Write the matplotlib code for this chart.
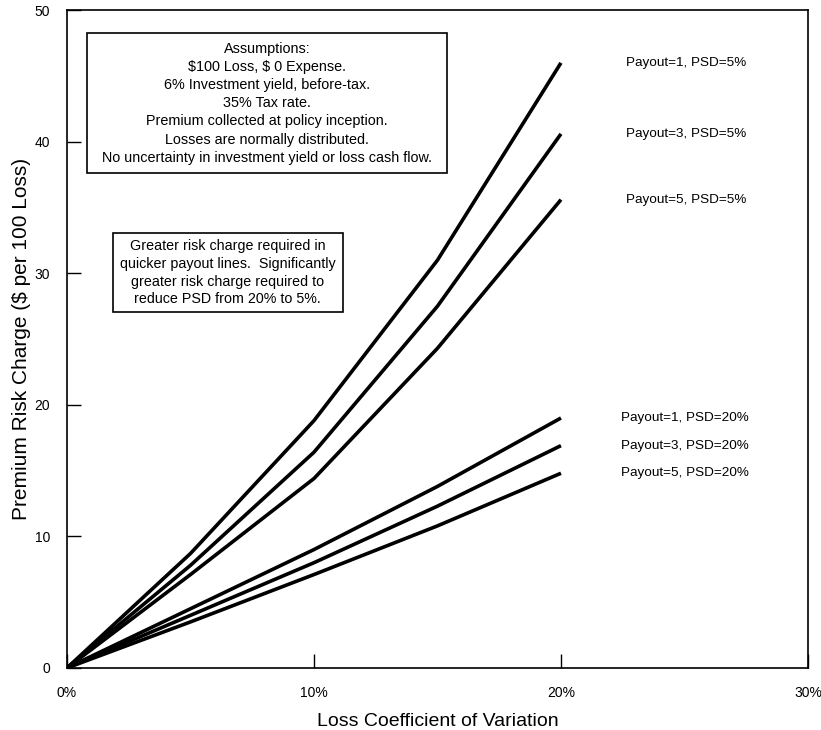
import matplotlib
matplotlib.use("Agg")
import matplotlib.pyplot as plt
from matplotlib.patches import Rectangle

# loss coefficient of variation (x) and premium risk charge per $100 loss (y)
cv = [0.0, 0.05, 0.10, 0.15, 0.20]

charge_p1_psd5 = [0.0, 8.7, 18.8, 31.0, 46.0]
charge_p3_psd5 = [0.0, 7.8, 16.4, 27.5, 40.6]
charge_p5_psd5 = [0.0, 7.1, 14.4, 24.3, 35.6]
charge_p1_psd20 = [0.0, 4.5, 9.0, 13.8, 19.0]
charge_p3_psd20 = [0.0, 4.0, 8.0, 12.3, 16.9]
charge_p5_psd20 = [0.0, 3.5, 7.1, 10.8, 14.8]

series = [
    ("Payout=1, PSD=5%", charge_p1_psd5),
    ("Payout=3, PSD=5%", charge_p3_psd5),
    ("Payout=5, PSD=5%", charge_p5_psd5),
    ("Payout=1, PSD=20%", charge_p1_psd20),
    ("Payout=3, PSD=20%", charge_p3_psd20),
    ("Payout=5, PSD=20%", charge_p5_psd20),
]

x_ticks = [0.0, 0.10, 0.20, 0.30]
x_tick_labels = ["0%", "10%", "20%", "30%"]
y_ticks = [0, 10, 20, 30, 40, 50]

assumptions = ("Assumptions:\n"
               "$100 Loss, $ 0 Expense.\n"
               "6% Investment yield, before-tax.\n"
               "35% Tax rate.\n"
               "Premium collected at policy inception.\n"
               "Losses are normally distributed.\n"
               "No uncertainty in investment yield or loss cash flow.")
note = ("Greater risk charge required in\n"
        "quicker payout lines.  Significantly\n"
        "greater risk charge required to\n"
        "reduce PSD from 20% to 5%.")

plt.rcParams["font.family"] = ["Liberation Sans", "DejaVu Sans"]

fig = plt.figure(figsize=(8.21, 7.30), dpi=100)
ax = fig.add_axes([0.0816, 0.085, 0.9025, 0.901])

for label, vals in series:
    ax.plot(cv, vals, color="black", linewidth=2.6, solid_capstyle="butt")
    # series name sits right of the line's last point
    x_lab = 0.2265 if "PSD=5%" in label else 0.2245
    ax.text(x_lab, vals[-1], label, fontsize=9.7, va="center", ha="left")

ax.set_xlim(0, 0.30)
ax.set_ylim(0, 50)
ax.set_xticks(x_ticks)
ax.set_xticklabels(x_tick_labels)
ax.set_yticks(y_ticks)
ax.tick_params(direction="in", length=10, width=1, labelsize=10)
ax.tick_params(axis="x", pad=13)
ax.tick_params(axis="y", pad=12)
for sp in ax.spines.values():
    sp.set_linewidth(1.2)

ax.set_xlabel("Loss Coefficient of Variation", fontsize=14, labelpad=9)
ax.set_ylabel("Premium Risk Charge ($ per 100 Loss)", fontsize=15, labelpad=3)

# text boxes
ax.add_patch(Rectangle((0.027, 0.752), 0.486, 0.213, transform=ax.transAxes,
                       facecolor="white", edgecolor="black", linewidth=1.2, zorder=3))
ax.text(0.270, 0.8585, assumptions, transform=ax.transAxes, ha="center", va="center",
        fontsize=10.4, linespacing=1.38, parse_math=False, zorder=4)

ax.add_patch(Rectangle((0.062, 0.541), 0.310, 0.120, transform=ax.transAxes,
                       facecolor="white", edgecolor="black", linewidth=1.2, zorder=3))
ax.text(0.217, 0.601, note, transform=ax.transAxes, ha="center", va="center",
        fontsize=10.3, linespacing=1.35, parse_math=False, zorder=4)

fig.savefig("out.png", dpi=100)
